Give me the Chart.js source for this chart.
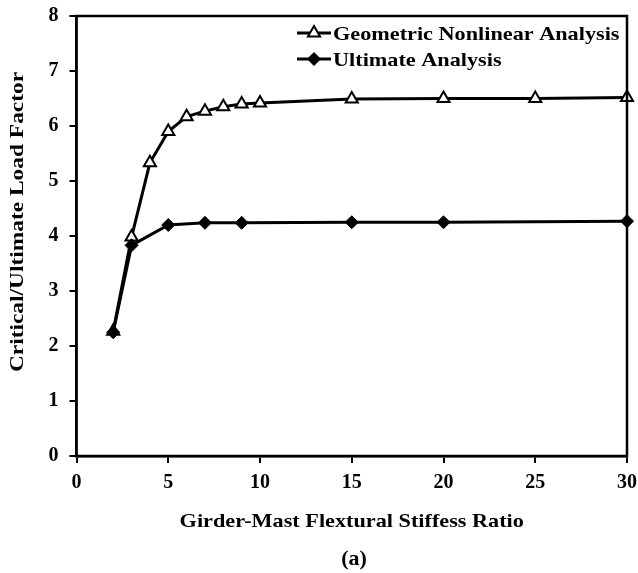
<!DOCTYPE html>
<html>
<head>
<meta charset="utf-8">
<script src="https://cdn.jsdelivr.net/npm/chart.js@4.4.1/dist/chart.umd.min.js"></script>
<style>
  html, body { margin: 0; padding: 0; background: #fff; }
  #wrap { width: 638px; height: 573px; }
</style>
</head>
<body>
<div id="wrap"><canvas id="c" width="638" height="573"></canvas></div>
<script>
// Stiffness ratios and load factors for the two analyses
const geoRatios = [2, 3, 4, 5, 6, 7, 8, 9, 10, 15, 20, 25, 30];
const geoFactors = [2.27, 3.98, 5.33, 5.90, 6.17, 6.27, 6.35, 6.40, 6.42, 6.49, 6.50, 6.50, 6.52];
const ultRatios = [2, 3, 5, 7, 9, 15, 20, 30];
const ultFactors = [2.25, 3.83, 4.20, 4.24, 4.24, 4.25, 4.25, 4.27];
const seriesNames = ['Geometric Nonlinear Analysis', 'Ultimate Analysis'];
const xTitle = 'Girder-Mast Flextural Stiffess Ratio';
const yTitle = 'Critical/Ultimate Load Factor';
const caption = '(a)';

const FONT = '"Liberation Serif", "Times New Roman", serif';

const toPoints = (xs, ys) => xs.map((x, i) => ({ x: x, y: ys[i] }));

// Fixed axis band sizes; edge-label overflow is handled by the layout padding
function fixAxis(size) {
  return function (scale) {
    if (scale.isHorizontal()) scale.height = size; else scale.width = size;
    scale.paddingTop = 0;
    scale.paddingBottom = 0;
    scale.paddingLeft = 0;
    scale.paddingRight = 0;
  };
}

// Draws text widened along its own direction (wide bold serif look)
function wideText(ctx, text, x, y, align, stretch) {
  ctx.save();
  ctx.translate(x, y);
  ctx.scale(stretch, 1);
  ctx.textAlign = align;
  ctx.fillText(text, 0, 0);
  ctx.restore();
}

// Frame, legend and titles drawn on top of the chart
const decorations = {
  id: 'decorations',
  afterDraw(chart) {
    const ctx = chart.ctx;
    const a = chart.chartArea;
    ctx.save();
    // frame around the plot area
    ctx.strokeStyle = '#000';
    ctx.lineWidth = 2.5;
    ctx.strokeRect(a.left, a.top, a.right - a.left, a.bottom - a.top);

    // legend inside the top right corner
    const rows = [33, 59];
    chart.data.datasets.forEach((ds, i) => {
      const y = rows[i];
      ctx.strokeStyle = '#000';
      ctx.lineWidth = 3;
      ctx.beginPath();
      ctx.moveTo(297, y);
      ctx.lineTo(331, y);
      ctx.stroke();
      ctx.fillStyle = ds.pointBackgroundColor;
      ctx.strokeStyle = ds.pointBorderColor;
      ctx.lineWidth = ds.pointBorderWidth;
      Chart.helpers.drawPoint(ctx, { pointStyle: ds.pointStyle, radius: ds.pointRadius, borderWidth: ds.pointBorderWidth, rotation: 0 }, 314, y);
      ctx.fillStyle = '#000';
      ctx.font = 'bold 19.5px ' + FONT;
      ctx.textBaseline = 'alphabetic';
      wideText(ctx, ds.label, 333, y + 7, 'left', 1.14);
    });

    // axis titles and caption
    ctx.fillStyle = '#000';
    ctx.font = 'bold 19.5px ' + FONT;
    ctx.textBaseline = 'alphabetic';
    wideText(ctx, xTitle, (a.left + a.right) / 2, 527, 'center', 1.14);
    ctx.font = 'bold 20px ' + FONT;
    wideText(ctx, caption, 354, 565, 'center', 1.1);
    ctx.save();
    ctx.translate(23, 222);
    ctx.rotate(-Math.PI / 2);
    ctx.font = 'bold 19.5px ' + FONT;
    wideText(ctx, yTitle, 0, 0, 'center', 1.2);
    ctx.restore();
    ctx.restore();
  }
};

new Chart(document.getElementById('c'), {
  type: 'scatter',
  data: {
    datasets: [
      {
        label: seriesNames[0],
        data: toPoints(geoRatios, geoFactors),
        showLine: true,
        borderColor: '#000',
        borderWidth: 3,
        pointStyle: 'triangle',
        pointRadius: 7,
        pointBorderWidth: 2,
        pointBackgroundColor: '#fff',
        pointBorderColor: '#000',
        clip: false,
        order: 2
      },
      {
        label: seriesNames[1],
        data: toPoints(ultRatios, ultFactors),
        showLine: true,
        borderColor: '#000',
        borderWidth: 3,
        pointStyle: 'rectRot',
        pointRadius: 6.5,
        pointBorderWidth: 1,
        pointBackgroundColor: '#000',
        pointBorderColor: '#000',
        clip: false,
        order: 1
      }
    ]
  },
  options: {
    responsive: false,
    animation: false,
    devicePixelRatio: 1,
    layout: { padding: { left: 0, top: 16, right: 11, bottom: 0 } },
    plugins: {
      legend: { display: false },
      tooltip: { enabled: false }
    },
    scales: {
      x: {
        type: 'linear',
        min: 0,
        max: 30,
        afterFit: fixAxis(117),
        grid: { display: true, drawOnChartArea: false, drawTicks: true, tickLength: 7, color: '#000', lineWidth: 2 },
        border: { display: true, color: '#000', width: 2.5 },
        ticks: {
          stepSize: 5,
          padding: 8,
          color: '#000',
          font: { family: FONT, size: 20, weight: 'bold' },
          maxRotation: 0
        }
      },
      y: {
        type: 'linear',
        min: 0,
        max: 8,
        afterFit: fixAxis(76.5),
        grid: { display: true, drawOnChartArea: false, drawTicks: true, tickLength: 7, color: '#000', lineWidth: 2 },
        border: { display: true, color: '#000', width: 2.5 },
        ticks: {
          stepSize: 1,
          padding: 11,
          color: '#000',
          font: { family: FONT, size: 20, weight: 'bold' }
        }
      }
    }
  },
  plugins: [decorations]
});
</script>
</body>
</html>
